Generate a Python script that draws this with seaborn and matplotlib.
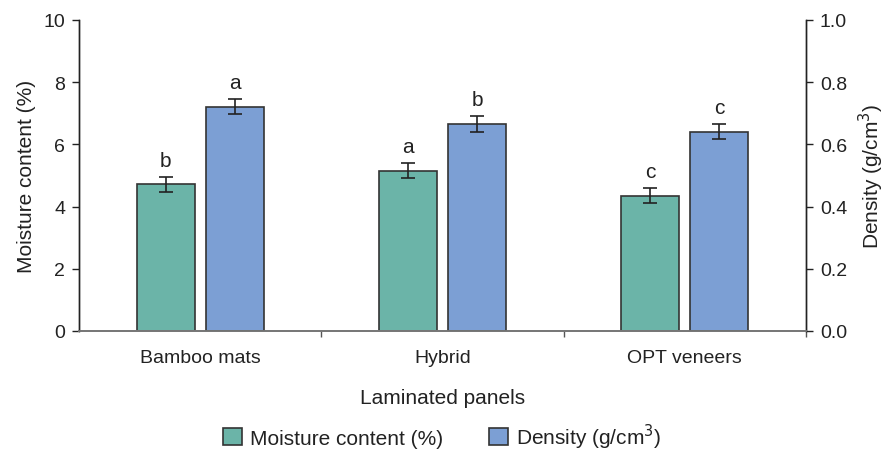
import matplotlib
matplotlib.use("Agg")
import matplotlib.pyplot as plt
import seaborn as sns
import pandas as pd
import numpy as np
from matplotlib.ticker import FixedLocator
from matplotlib.patches import Patch

panels = ["Bamboo mats", "Hybrid", "OPT veneers"]
moisture = [4.72, 5.15, 4.35]
moisture_err = [0.24, 0.24, 0.25]
density = [0.721, 0.666, 0.641]
density_err = [0.024, 0.026, 0.025]
moisture_letters = ["b", "a", "c"]
density_letters = ["a", "b", "c"]
series = ["Moisture content (%)", "Density (g/cm$^3$)"]
colors = ["#6bb4a8", "#7c9fd4"]

sns.set_theme(style="white")
plt.rcParams["font.family"] = ["Liberation Sans", "DejaVu Sans"]

rows = []
for i, p in enumerate(panels):
    rows.append({"panel": p, "series": series[0], "m": moisture[i], "d": np.nan})
    rows.append({"panel": p, "series": series[1], "m": np.nan, "d": density[i]})
df = pd.DataFrame(rows)

fig = plt.figure(figsize=(8.85, 4.52), dpi=100)
ax = fig.add_axes([79 / 885, 1 - 332 / 452, (806 - 79) / 885, (332 - 21) / 452])
ax2 = ax.twinx()

common = dict(x="panel", hue="series", hue_order=series, order=panels,
              palette=colors, saturation=1, width=0.57, gap=0.16, dodge=True,
              errorbar=None, edgecolor="#333333", linewidth=1.2,
              legend=False)
sns.barplot(data=df, y="m", ax=ax, **common)
sns.barplot(data=df, y="d", ax=ax2, **common)

ax.set_ylim(0, 10)
ax2.set_ylim(0, 1.0)
ax.set_xlim(-0.5, 2.5)

def bar_centers(a):
    cs = []
    for patch in a.patches:
        h = patch.get_height()
        if np.isfinite(h) and h > 0:
            cs.append((patch.get_x() + patch.get_width() / 2, h))
    cs.sort()
    return cs

FS = 14
LFS = 15
mc = bar_centers(ax)
dc = bar_centers(ax2)
for (x, h), e, lab in zip(mc, moisture_err, moisture_letters):
    ax.errorbar(x, h, yerr=e, fmt="none", ecolor="#222222", elinewidth=1.2,
                capsize=5, capthick=1.2, zorder=5)
    ax.annotate(lab, (x, h + e), xytext=(0, 8), textcoords="offset points",
                ha="center", va="baseline", fontsize=15, color="#222222")
for (x, h), e, lab in zip(dc, density_err, density_letters):
    ax2.errorbar(x, h, yerr=e, fmt="none", ecolor="#222222", elinewidth=1.2,
                 capsize=5, capthick=1.2, zorder=5)
    ax2.annotate(lab, (x, h + e), xytext=(0, 8), textcoords="offset points",
                 ha="center", va="baseline", fontsize=15, color="#222222")

ax.set_yticks([0, 2, 4, 6, 8, 10])
ax2.set_yticks([0, 0.2, 0.4, 0.6, 0.8, 1.0])
ax2.set_yticklabels(["0.0", "0.2", "0.4", "0.6", "0.8", "1.0"])

for a in (ax, ax2):
    a.spines["top"].set_visible(False)
    a.spines["bottom"].set_color("#777777")
    a.spines["bottom"].set_linewidth(1.3)
    a.spines["left"].set_color("#222222")
    a.spines["right"].set_color("#222222")
    a.spines["left"].set_linewidth(1.0)
    a.spines["right"].set_linewidth(1.0)
    a.grid(False)

ax.tick_params(axis="y", direction="out", length=5, width=1, color="#222222",
               labelsize=FS, labelcolor="#222222", left=True, pad=5)
ax2.tick_params(axis="y", direction="out", length=5, width=1, color="#222222",
                labelsize=FS, labelcolor="#222222", right=True, pad=5)
ax.tick_params(axis="x", which="major", length=0, labelsize=FS,
               labelcolor="#222222", pad=13)
ax.xaxis.set_minor_locator(FixedLocator([0.5, 1.5, 2.5]))
ax.tick_params(axis="x", which="minor", direction="out", length=4, width=1,
               color="#555555", bottom=True)

ax.set_xlabel("Laminated panels", fontsize=LFS, color="#222222", labelpad=16)
ax.set_ylabel("Moisture content (%)", fontsize=LFS, color="#222222", labelpad=5)
ax2.set_ylabel("Density (g/cm$^3$)", fontsize=LFS, color="#222222", labelpad=7)

handles = [Patch(facecolor=c, edgecolor="#333333", linewidth=1.2) for c in colors]
fig.legend(handles, series, loc="center", bbox_to_anchor=(0.5, 1 - 437 / 452),
           ncol=2, frameon=False, fontsize=LFS, handlelength=0.9, handleheight=0.9,
           handletextpad=0.4, columnspacing=2.2, labelcolor="#222222")

fig.savefig("out.png", dpi=100)
